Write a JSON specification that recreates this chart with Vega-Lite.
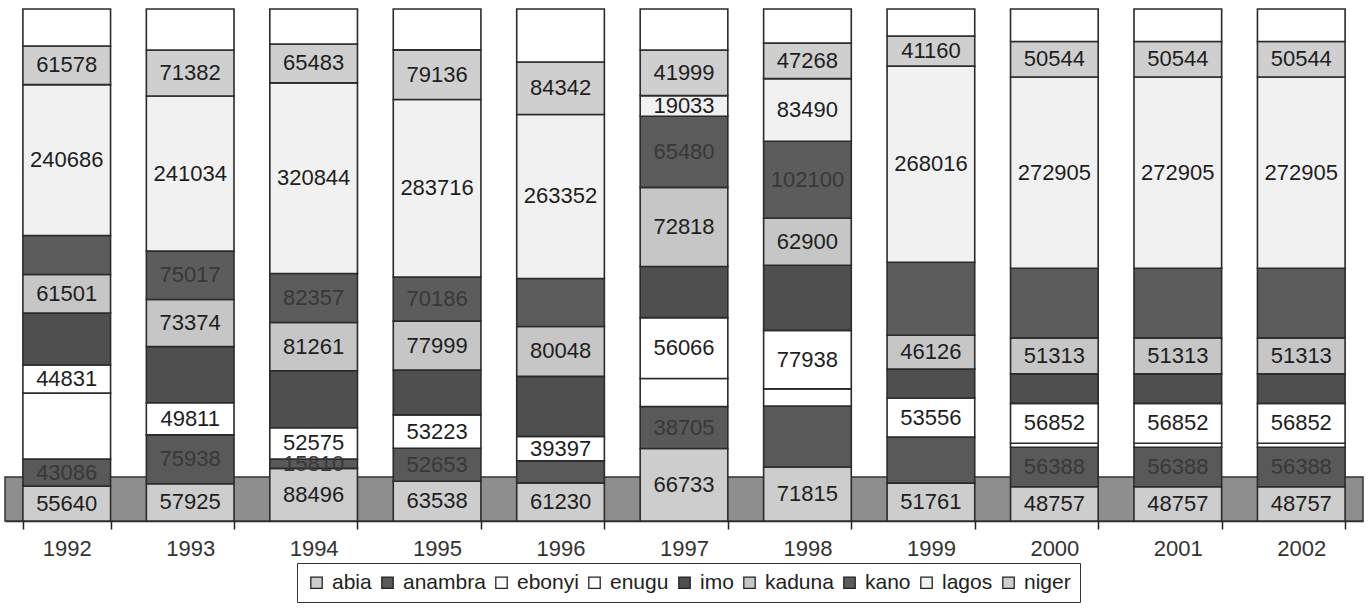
{
  "$schema": "https://vega.github.io/schema/vega-lite/v6.json",
  "width": 1358,
  "height": 512,
  "padding": {"left": 4, "top": 8, "right": 5, "bottom": 4},
  "background": "white",
  "config": {
    "view": {"stroke": null},
    "font": "Liberation Sans"
  },
  "datasets": {
    "pop": [
      {"year": "1992", "state": "abia", "value": 55640, "label": "55640"},
      {"year": "1992", "state": "anambra", "value": 43086, "label": "43086"},
      {"year": "1992", "state": "ebonyi", "value": 105300},
      {"year": "1992", "state": "enugu", "value": 44831, "label": "44831"},
      {"year": "1992", "state": "imo", "value": 83000},
      {"year": "1992", "state": "kaduna", "value": 61501, "label": "61501"},
      {"year": "1992", "state": "kano", "value": 62200},
      {"year": "1992", "state": "lagos", "value": 240686, "label": "240686"},
      {"year": "1992", "state": "niger", "value": 61578, "label": "61578"},
      {"year": "1992", "state": "other", "value": 59000},

      {"year": "1993", "state": "abia", "value": 57925, "label": "57925"},
      {"year": "1993", "state": "anambra", "value": 75938, "label": "75938"},
      {"year": "1993", "state": "enugu", "value": 49811, "label": "49811"},
      {"year": "1993", "state": "imo", "value": 87200},
      {"year": "1993", "state": "kaduna", "value": 73374, "label": "73374"},
      {"year": "1993", "state": "kano", "value": 75017, "label": "75017"},
      {"year": "1993", "state": "lagos", "value": 241034, "label": "241034"},
      {"year": "1993", "state": "niger", "value": 71382, "label": "71382"},
      {"year": "1993", "state": "other", "value": 63800},

      {"year": "1994", "state": "abia", "value": 88496, "label": "88496"},
      {"year": "1994", "state": "anambra", "value": 15810, "label": "15810"},
      {"year": "1994", "state": "enugu", "value": 52575, "label": "52575"},
      {"year": "1994", "state": "imo", "value": 95900},
      {"year": "1994", "state": "kaduna", "value": 81261, "label": "81261"},
      {"year": "1994", "state": "kano", "value": 82357, "label": "82357"},
      {"year": "1994", "state": "lagos", "value": 320844, "label": "320844"},
      {"year": "1994", "state": "niger", "value": 65483, "label": "65483"},
      {"year": "1994", "state": "other", "value": 58900},

      {"year": "1995", "state": "abia", "value": 63538, "label": "63538"},
      {"year": "1995", "state": "anambra", "value": 52653, "label": "52653"},
      {"year": "1995", "state": "enugu", "value": 53223, "label": "53223"},
      {"year": "1995", "state": "imo", "value": 71700},
      {"year": "1995", "state": "kaduna", "value": 77999, "label": "77999"},
      {"year": "1995", "state": "kano", "value": 70186, "label": "70186"},
      {"year": "1995", "state": "lagos", "value": 283716, "label": "283716"},
      {"year": "1995", "state": "niger", "value": 79136, "label": "79136"},
      {"year": "1995", "state": "other", "value": 65300},

      {"year": "1996", "state": "abia", "value": 61230, "label": "61230"},
      {"year": "1996", "state": "anambra", "value": 35300},
      {"year": "1996", "state": "enugu", "value": 39397, "label": "39397"},
      {"year": "1996", "state": "imo", "value": 96400},
      {"year": "1996", "state": "kaduna", "value": 80048, "label": "80048"},
      {"year": "1996", "state": "kano", "value": 77100},
      {"year": "1996", "state": "lagos", "value": 263352, "label": "263352"},
      {"year": "1996", "state": "niger", "value": 84342, "label": "84342"},
      {"year": "1996", "state": "other", "value": 85100},

      {"year": "1997", "state": "abia", "value": 66733, "label": "66733"},
      {"year": "1997", "state": "anambra", "value": 38705, "label": "38705"},
      {"year": "1997", "state": "ebonyi", "value": 25800},
      {"year": "1997", "state": "enugu", "value": 56066, "label": "56066"},
      {"year": "1997", "state": "imo", "value": 47100},
      {"year": "1997", "state": "kaduna", "value": 72818, "label": "72818"},
      {"year": "1997", "state": "kano", "value": 65480, "label": "65480"},
      {"year": "1997", "state": "lagos", "value": 19033, "label": "19033"},
      {"year": "1997", "state": "niger", "value": 41999, "label": "41999"},
      {"year": "1997", "state": "other", "value": 37800},

      {"year": "1998", "state": "abia", "value": 71815, "label": "71815"},
      {"year": "1998", "state": "anambra", "value": 81400},
      {"year": "1998", "state": "ebonyi", "value": 22700},
      {"year": "1998", "state": "enugu", "value": 77938, "label": "77938"},
      {"year": "1998", "state": "imo", "value": 86700},
      {"year": "1998", "state": "kaduna", "value": 62900, "label": "62900"},
      {"year": "1998", "state": "kano", "value": 102100, "label": "102100"},
      {"year": "1998", "state": "lagos", "value": 83490, "label": "83490"},
      {"year": "1998", "state": "niger", "value": 47268, "label": "47268"},
      {"year": "1998", "state": "other", "value": 45400},

      {"year": "1999", "state": "abia", "value": 51761, "label": "51761"},
      {"year": "1999", "state": "anambra", "value": 62900},
      {"year": "1999", "state": "enugu", "value": 53556, "label": "53556"},
      {"year": "1999", "state": "imo", "value": 39600},
      {"year": "1999", "state": "kaduna", "value": 46126, "label": "46126"},
      {"year": "1999", "state": "kano", "value": 99800},
      {"year": "1999", "state": "lagos", "value": 268016, "label": "268016"},
      {"year": "1999", "state": "niger", "value": 41160, "label": "41160"},
      {"year": "1999", "state": "other", "value": 36900},

      {"year": "2000", "state": "abia", "value": 48757, "label": "48757"},
      {"year": "2000", "state": "anambra", "value": 56388, "label": "56388"},
      {"year": "2000", "state": "ebonyi", "value": 5800},
      {"year": "2000", "state": "enugu", "value": 56852, "label": "56852"},
      {"year": "2000", "state": "imo", "value": 42100},
      {"year": "2000", "state": "kaduna", "value": 51313, "label": "51313"},
      {"year": "2000", "state": "kano", "value": 99269},
      {"year": "2000", "state": "lagos", "value": 272905, "label": "272905"},
      {"year": "2000", "state": "niger", "value": 50544, "label": "50544"},
      {"year": "2000", "state": "other", "value": 46400},

      {"year": "2001", "state": "abia", "value": 48757, "label": "48757"},
      {"year": "2001", "state": "anambra", "value": 56388, "label": "56388"},
      {"year": "2001", "state": "ebonyi", "value": 5800},
      {"year": "2001", "state": "enugu", "value": 56852, "label": "56852"},
      {"year": "2001", "state": "imo", "value": 42100},
      {"year": "2001", "state": "kaduna", "value": 51313, "label": "51313"},
      {"year": "2001", "state": "kano", "value": 99269},
      {"year": "2001", "state": "lagos", "value": 272905, "label": "272905"},
      {"year": "2001", "state": "niger", "value": 50544, "label": "50544"},
      {"year": "2001", "state": "other", "value": 46400},

      {"year": "2002", "state": "abia", "value": 48757, "label": "48757"},
      {"year": "2002", "state": "anambra", "value": 56388, "label": "56388"},
      {"year": "2002", "state": "ebonyi", "value": 5800},
      {"year": "2002", "state": "enugu", "value": 56852, "label": "56852"},
      {"year": "2002", "state": "imo", "value": 42100},
      {"year": "2002", "state": "kaduna", "value": 51313, "label": "51313"},
      {"year": "2002", "state": "kano", "value": 99269},
      {"year": "2002", "state": "lagos", "value": 272905, "label": "272905"},
      {"year": "2002", "state": "niger", "value": 50544, "label": "50544"},
      {"year": "2002", "state": "other", "value": 46400}
    ],
    "floor": [{"band": "floor"}]
  },
  "layer": [
    {
      "data": {"name": "floor"},
      "mark": {"type": "rect", "fill": "#8e8e8e", "stroke": "#333", "strokeWidth": 1.5},
      "encoding": {
        "y": {"datum": 0, "type": "quantitative", "scale": {"domain": [0, 1], "nice": false}, "axis": null},
        "y2": {"datum": 0.086}
      }
    },
    {
      "data": {"name": "pop"},
      "transform": [
        {"stack": "value", "groupby": ["year"], "sort": [{"field": "state", "order": "ascending"}], "offset": "normalize", "as": ["y0", "y1"]}
      ],
      "mark": {"type": "bar", "stroke": "#2b2b2b", "strokeWidth": 1.6},
      "encoding": {
        "x": {
          "field": "year", "type": "ordinal",
          "scale": {"paddingInner": 0.29, "paddingOuter": 0.145},
          "axis": {
            "title": null, "labelAngle": 0, "labelFontSize": 22, "labelColor": "#333",
            "labelFont": "Liberation Sans", "labelPadding": 9,
            "tickBand": "extent", "tickSize": 8, "tickColor": "#222", "tickWidth": 1.5,
            "domainColor": "#222", "domainWidth": 1.5
          }
        },
        "y": {"field": "y0", "type": "quantitative", "scale": {"domain": [0, 1], "nice": false}, "axis": null},
        "y2": {"field": "y1"},
        "color": {
          "field": "state", "type": "nominal",
          "scale": {
            "domain": ["abia", "anambra", "ebonyi", "enugu", "imo", "kaduna", "kano", "lagos", "niger", "other"],
            "range": ["#cdcdcd", "#595959", "#ffffff", "#ffffff", "#4f4f4f", "#c6c6c6", "#5c5c5c", "#f1f1f1", "#cfcfcf", "#ffffff"]
          },
          "legend": {
            "values": ["abia", "anambra", "ebonyi", "enugu", "imo", "kaduna", "kano", "lagos", "niger"],
            "title": null, "orient": "none", "legendX": 292, "legendY": 554,
            "direction": "horizontal", "columns": 9, "columnPadding": 5,
            "labelFontSize": 21, "labelFont": "Liberation Sans", "labelColor": "#222", "labelOffset": 5,
            "symbolType": "square", "symbolSize": 130, "symbolStrokeColor": "#222", "symbolStrokeWidth": 1.3,
            "strokeColor": "#333", "padding": 9
          }
        }
      }
    },
    {
      "data": {"name": "pop"},
      "transform": [
        {"stack": "value", "groupby": ["year"], "sort": [{"field": "state", "order": "ascending"}], "offset": "normalize", "as": ["y0", "y1"]},
        {"filter": "isValid(datum.label)"},
        {"fold": ["y0", "y1"], "as": ["edge", "pos"]},
        {"aggregate": [{"op": "mean", "field": "pos", "as": "mid"}], "groupby": ["year", "state", "label"]}
      ],
      "mark": {"type": "text", "fontSize": 22, "font": "Liberation Sans", "baseline": "middle", "align": "center"},
      "encoding": {
        "x": {"field": "year", "type": "ordinal"},
        "y": {"field": "mid", "type": "quantitative"},
        "text": {"field": "label"},
        "color": {
          "condition": {"test": "indexof(['anambra','imo','kano'], datum.state) >= 0", "value": "#383838"},
          "value": "#1e1e1e"
        }
      }
    }
  ]
}
